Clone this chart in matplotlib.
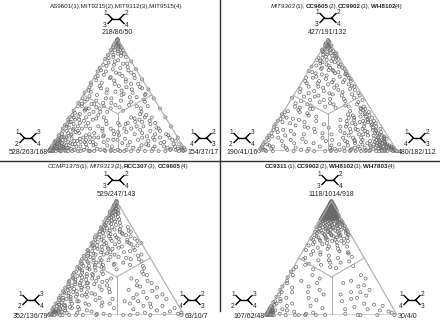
import numpy as np
import matplotlib
matplotlib.use('Agg')
import matplotlib.pyplot as plt
from matplotlib.offsetbox import TextArea, HPacker, AnnotationBbox

plt.rcParams['font.family'] = 'Liberation Sans'

# title pieces: (text, style)
titles = [
    [('AS9601(1),MIT9215(2),MIT9312(3),MIT9515(4)', 'n')],
    [('MIT9303', 'i'), ('(1),', 'n'), ('CC9605', 'b'), ('(2),', 'n'), ('CC9902', 'b'), ('(3),', 'n'),
     ('WH8102', 'b'), ('(4)', 'n')],
    [('CCMP1375', 'i'), ('(1),', 'n'), ('MIT9313', 'i'), ('(2),', 'n'), ('RCC307', 'b'), ('(3),', 'n'),
     ('CC9605', 'b'), ('(4)', 'n')],
    [('CC9311', 'b'), ('(1),', 'n'), ('CC9902', 'b'), ('(2),', 'n'), ('WH8102', 'b'), ('(3),', 'n'),
     ('WH7803', 'b'), ('(4)', 'n')],
]
top_counts = ['218/86/50', '427/191/132', '529/247/143', '1118/1014/918']
left_counts = ['528/263/168', '190/41/16', '352/136/79', '107/62/48']
right_counts = ['154/37/17', '480/182/112', '63/10/7', '30/4/0']

# quartet points: (% support for top topology, % support for right topology), left = the rest
pts1 = [(100,0),(98,1),(97,2),(96,1),(95,3),(94,2),(93,4),(92,1),(91,5),(90,3),(89,6),(88,2),(87,7),(86,4),
        (95,0),(93,0),(90,0),(88,9),(85,10),(86,0),(84,5),(99,0),(97,0),(94,5),(92,7),
        (80,8),(78,15),(76,4),(75,20),(73,10),(72,2),(70,25),(70,14),(68,6),(67,20),(65,30),(65,12),(63,3),
        (62,25),(60,18),(60,35),(58,8),(57,28),(56,40),(55,15),(54,2),(53,22),(52,35),(51,45),(50,10),
        (50,28),(48,40),(47,18),(46,5),(45,30),(44,48),(43,24),(42,12),(41,38),(40,52),(40,20),(39,32),(38,8),
        (82,0),(77,1),(71,0),(66,1),(61,0),(57,1),(52,0),(47,1),(43,0),
        (80,20),(73,27),(64,36),(55,45),(47,53),(38,62),(30,70),(22,78),(12,88),
        (0,0),(1,1),(2,0),(0,2),(3,1),(1,3),(4,2),(2,4),(5,0),(0,5),(6,3),(3,6),(7,1),(1,7),(8,4),(4,8),
        (9,0),(0,9),(10,2),(2,10),(5,5),(7,6),(6,8),(10,7),(8,10),(12,3),(3,12),(11,11),(13,6),(6,14),
        (14,0),(0,14),(15,9),(9,16),(4,18),(18,4),(16,14),(12,19),(20,8),(8,22),
        (20,0),(24,1),(28,0),(32,1),(36,0),(26,2),(30,3),(22,2),
        (0,12),(0,17),(0,21),(1,25),(0,29),(0,33),(1,37),(0,41),(0,45),(0,48),(0,52),(1,56),
        (25,10),(28,18),(22,25),(18,30),(15,22),(30,12),(33,6),(35,15),(27,28),(20,35),(12,30),(10,38),
        (15,40),(25,38),(8,26),(14,33),(30,25),(38,10),(40,4),(35,25),(22,16),(18,12),(5,30),(5,40),
        (10,45),(20,20),(28,5),(12,24),(24,30),(32,20),
        (10,60),(15,55),(20,50),(25,45),(5,70),(8,80),(12,75),(3,85),(18,65),(22,58),(28,52),(30,60),
        (35,50),(15,70),(5,55),(2,65),(0,60),(0,70),(0,80),(1,88),(0,95),(2,93),(4,90),(6,88),(10,85),
        (25,65),(32,55),(20,70),(12,62),(7,50),(17,48),(26,55),(38,48),(30,45),(14,80),(4,75),(9,68),
        (23,40),(0,75),(1,50),(3,60),(5,65),(0,98),(1,97),(2,96),(3,95),(1,99),
        (0,1),(1,0),(2,2),(3,0),(0,3),(4,4),(5,2),(2,5),(6,1),(1,6),(7,4),(4,7),(8,0),(0,8),(9,3),(3,9),
        (10,5),(5,10),(11,1),(1,11),(12,7),(7,12),(13,3),(3,13),(14,9),(9,14),(15,2),(2,15),(16,6),(6,16),
        (17,11),(11,17),(18,1),(1,18),(19,8),(8,19),(20,14),(14,20),(21,4),(4,21),(22,10),(10,22),(23,0),
        (0,23),(24,6),(6,24),(25,16),(16,25),(26,3),(3,26),(27,12),(12,27),(28,8),(8,28),(29,20),(20,29),
        (30,0),(0,30),(31,6),(6,31),(33,13),(13,33),(34,2),(2,34),(36,8),(8,36),(38,18),(18,38),(40,1),
        (1,40),(42,10),(10,42),(44,4),(4,44),
        (99,1),(96,3),(93,6),(90,9),(87,11),(84,14),(83,2),(81,10),(79,4),(78,18),(77,9),(74,15),(74,0),
        (72,22),(71,6),(69,17),(68,28),(67,2),(66,12),(64,24),(63,16),(61,8),(60,30),(59,1),(58,22),(57,38),
        (56,10),(55,33),(54,26),(53,4),(52,16),(51,29),(50,45),(49,5),(48,35),(47,22),(46,46),(45,12),
        (44,38),(43,18),(42,3),(41,28),(40,44),(39,15),(38,26),(37,8),(36,36),(35,20),
        (30,55),(27,60),(24,62),(21,68),(18,72),(15,78),(12,82),(9,88),(6,92),(3,97),(33,50),(29,48),
        (26,50),(22,53),(19,57),(16,60),(13,65),(10,72),(7,78),(4,82),(2,88),(1,92),(0,85),(0,65),(0,55),
        (1,45),(8,55),(11,50),(14,44),(17,42),(20,45),(24,44),(2,75),(6,68),(12,70)]

pts2 = [(100,0),(98,1),(97,2),(96,0),(95,3),(94,1),(93,4),(92,2),(91,6),(90,1),(89,5),(88,8),(87,3),
        (86,10),(85,6),(84,1),(83,12),(82,8),(81,4),(80,15),(99,1),(96,3),(94,4),(91,0),(88,11),(86,13),
        (84,14),(78,20),(75,23),(72,27),(70,28),(68,30),
        (79,5),(77,12),(76,0),(74,8),(73,17),(71,3),(70,20),(69,11),(67,25),(66,6),(65,16),(64,30),(63,2),
        (62,22),(61,12),(60,35),(59,27),(58,7),(57,18),(56,38),(55,30),(54,13),(53,3),(52,25),(51,42),
        (50,18),(50,35),(49,8),(48,45),(47,28),(46,14),(45,40),(44,22),(43,5),(42,50),(42,33),(41,17),
        (40,28),(40,45),(39,10),(38,55),(63,35),(58,40),(52,46),(46,52),(66,32),(72,18),(75,14),
        (30,5),(28,15),(25,10),(22,22),(20,3),(18,14),(15,25),(12,8),(10,18),(8,30),(6,3),(5,15),(3,25),
        (2,35),(0,40),(0,10),(1,20),(32,20),(35,12),(27,28),(24,35),(16,38),(12,40),(9,44),(20,30),(14,12),
        (4,8),(1,2),(0,0),(2,0),(3,1),(1,4),(36,3),(33,0),(29,1),(24,0),(19,1),(14,0),(10,2),(6,0),(38,18),
        (26,20),(17,5),(21,40),(7,22),
        (0,100),(1,98),(2,97),(0,97),(3,96),(1,95),(4,94),(2,93),(0,93),(5,92),(3,91),(6,90),(1,91),(7,88),
        (4,88),(0,89),(8,87),(2,86),(9,86),(5,85),(10,84),(11,87),(12,85),(13,84),(7,82),(3,83),(14,82),
        (0,85),(15,80),(10,80),
        (17,80),(20,78),(22,74),(25,72),(27,70),(30,67),(32,64),(35,62),(38,58),(40,56),(18,76),(23,70),
        (28,65),(33,60),(16,78),(19,73),(26,68),(12,80),
        (0,80),(1,77),(0,74),(2,72),(0,70),(1,66),(0,62),(3,60),(0,56),(1,52),(0,48),
        (10,70),(15,65),(20,60),(25,55),(30,50),(8,60),(12,55),(18,50),(22,48),(28,45),(5,50),(10,48),
        (15,45),(3,68),(7,75),(14,72),(20,65),(26,60),(32,52),(36,48),(5,78),(9,65),(17,58),(24,52),
        (98,2),(97,0),(95,5),(93,1),(92,6),(90,9),(89,2),(88,12),(87,6),(85,14),(84,4),(83,16),(82,1),
        (81,12),(80,6),(79,18),(78,10),(77,3),(76,20),(75,8),(74,25),(73,14),(72,0),(71,22),(70,6),(69,28),
        (68,15),(67,8),(66,1),(65,34),(64,22),(63,12),(62,30),(61,4),(60,20),(59,38),(58,14),(57,26),(56,2),
        (55,42),(54,20),(53,34),(52,10),(51,28),(50,48),(49,16),(48,0),(47,38),(46,24),(45,8),(44,50),
        (43,30),(42,14),(41,42),(40,6),(39,36),(38,20),
        (37,10),(34,18),(31,26),(29,10),(26,4),(23,15),(21,25),(19,8),(17,32),(15,18),(13,3),(11,26),(9,12),
        (7,36),(5,5),(4,42),(3,18),(2,8),(1,30),(0,25),(0,5),(0,35),(8,0),(12,0),(16,1),(22,0),(27,0),
        (31,2),(35,1),(4,0),
        (0,99),(1,97),(2,95),(3,94),(4,92),(5,90),(6,88),(7,86),(8,84),(9,83),(10,82),(11,85),(2,90),(4,86),
        (6,84),(0,91),(1,88),(3,87),(5,83),(8,80),(0,87),(13,80),(16,76),(19,75),(21,72),(24,70),(26,66),
        (29,64),(31,62),(34,60),(37,57),(39,54),(14,76),(11,78),(9,76),(18,68),(22,65),(27,62),(31,58),
        (35,56),(6,72),(4,70),(2,66),(0,66),(1,58),(2,54),(0,52),(3,50),(6,55),(9,58),(12,62),(15,68),
        (20,56),(24,58),(28,55),(30,54),(33,48),(27,50),(22,52),(16,54),(12,68),(8,70),(5,62),(3,75),(1,80),
        (14,58),(19,62),(10,64),(7,66),(0,77),(2,82),(4,79),(6,80),(17,70),(25,64)]

pts3 = [(100,0),(98,1),(97,0),(96,2),(95,1),(94,0),(93,3),(92,1),(91,4),(90,0),(89,2),(88,5),(87,1),
        (86,3),(85,0),(84,6),(83,2),(82,8),(81,4),(80,1),(79,10),(78,3),(99,0),(95,4),(90,6),
        (77,0),(76,5),(75,2),(74,8),(73,1),(72,4),(71,10),(70,0),(69,6),(68,3),(67,12),(66,1),(65,8),(64,4),
        (63,0),(62,10),(61,5),(60,2),(59,14),(58,7),(57,0),(56,4),(55,11),(54,2),(53,8),(52,0),(51,5),
        (50,13),(49,3),(48,9),(47,0),(46,6),(45,2),(44,12),(43,4),(42,0),(41,8),(40,3),(39,15),(38,1),
        (37,6),(36,10),(35,0),(34,4),(33,8),(32,2),(31,12),(30,0),(29,5),(28,9),(27,1),(26,4),(25,14),
        (24,0),(23,7),(22,3),(21,10),(20,1),(19,5),(18,12),(17,0),(16,8),(15,3),(14,6),(13,1),(12,10),
        (11,4),(10,0),(9,7),(8,2),(7,12),(6,5),(5,0),(4,3),(3,8),(2,1),(1,5),(0,0),(0,2),(1,0),(3,2),(2,4),(5,3),
        (75,15),(72,18),(70,22),(68,16),(66,25),(64,20),(62,30),(60,24),(58,18),(57,35),(55,28),(53,22),
        (52,40),(50,32),(48,20),(47,45),(45,26),(44,38),(42,18),(41,50),(40,30),(63,28),(59,33),(54,16),
        (49,42),(46,15),(74,22),(65,33),
        (30,20),(25,25),(20,18),(15,30),(10,22),(5,20),(8,35),(20,35),(28,15),(12,15),(18,25),(24,12),
        (33,20),(3,30),(14,40),(6,45),(26,30),(0,15),(0,25),(1,35),(0,45),(35,15),(17,16),
        (30,50),(25,55),(20,60),(15,65),(10,70),(35,55),(28,62),(18,75),(8,80),(5,60),(12,50),(22,48),
        (3,88),(1,95),(0,98),(2,97),(0,60),(0,75),(1,85),(38,50),(15,55),(7,72),(32,45),(24,68),
        (99,1),(97,1),(96,0),(94,3),(93,1),(92,5),(91,0),(90,3),(89,7),(88,1),(87,4),(86,8),(85,2),(84,10),
        (83,5),(82,0),(81,12),(80,6),(79,2),(78,14),(77,8),(76,1),(75,11),(74,4),(73,16),(72,8),(71,2),
        (70,14),(69,10),(68,0),(67,18),(66,6),(65,14),(64,1),(63,11),(62,18),(61,2),(60,9),(59,4),(58,15),
        (57,11),(56,1),(55,18),(54,6),(53,14),(52,3),(51,20),(50,8),(49,0),(48,15),(47,5),(46,12),(45,1),
        (44,18),(43,8),(42,13),(41,2),(40,10),(39,5),(38,20),(37,0),(36,14),(35,6),(34,11),(33,1),(32,16),
        (31,4),(30,9),(29,0),(28,14),(27,6),(26,10),(25,2),(24,17),(23,4),(22,13),(21,0),(20,8),(19,2),
        (18,18),(17,6),(16,12),(15,0),(14,9),(13,4),(12,16),(11,1),(10,12),(9,3),(8,8),(7,0),(6,14),(5,6),
        (4,10),(3,3),(2,12),(1,2),(0,8),(0,4),(2,6),(4,1),(6,9),(8,5),(1,1),(3,5),
        (73,24),(71,19),(69,26),(67,30),(64,26),(61,35),(59,22),(56,32),(53,42),(51,26),(49,36),(46,32),
        (44,26),(43,48),(41,20),(77,20),(63,37),
        (32,30),(29,25),(27,20),(22,28),(19,22),(16,20),(13,28),(11,34),(9,25),(7,18),(4,26),(2,20),(1,40),
        (0,35),(0,20),(0,10),(10,40),(23,33),(30,28),(36,22),
        (36,52),(26,52),(21,66),(16,72),(12,60),(8,66),(4,78),(2,70),(10,55),(18,56),(30,58),(14,80),(6,90),
        (0,55),(1,65)]

pts4 = [(100,0),(99,0),(99,1),(98,0),(98,1),(98,2),(97,0),(97,1),(97,2),(97,3),(96,0),(96,2),(96,4),
        (95,1),(95,3),(95,5),(94,0),(94,2),(94,4),(94,6),(93,1),(93,3),(93,5),(92,0),(92,2),(92,4),(92,6),
        (92,8),(91,1),(91,3),(91,5),(91,7),(90,0),(90,2),(90,4),(90,6),(90,8),(89,1),(89,3),(89,5),(89,7),
        (89,9),(88,0),(88,2),(88,4),(88,6),(88,8),(88,10),(87,1),(87,3),(87,5),(87,7),(87,9),(86,0),(86,2),
        (86,4),(86,6),(86,8),(86,10),(86,12),(85,1),(85,3),(85,5),(85,7),(85,9),(85,11),(84,0),(84,4),
        (84,8),(84,12),
        (83,2),(83,10),(82,6),(82,14),(81,1),(81,9),(80,4),(80,12),(80,18),(79,7),(79,15),(78,2),(78,10),
        (77,18),(77,5),(76,13),(76,22),(75,8),(75,1),(74,16),(74,24),(73,4),(73,11),(72,20),(72,7),(71,14),
        (71,27),(70,2),(70,10),(70,22),(69,17),(68,6),(68,28),(67,12),(66,20),(66,3),(65,25),(65,9),
        (63,15),(62,5),(61,24),(60,32),(59,10),(58,18),(57,2),(56,28),(55,14),(54,36),(53,8),(52,22),
        (50,30),(49,4),(48,16),(47,40),(46,26),(45,10),(44,20),(43,45),(42,2),(41,33),
        (0,0),(1,0),(0,1),(2,1),(1,2),(3,0),(0,3),(2,3),(4,1),(1,4),(5,2),(3,4),(6,0),(0,6),(4,5),
        (8,0),(12,1),(16,0),(20,2),(25,0),(30,1),(35,3),(38,0),(10,3),(14,4),
        (30,12),(25,20),(20,10),(15,25),(10,15),(8,30),(5,10),(18,35),(28,25),(35,18),(12,5),(22,30),
        (3,20),(0,15),(0,22),(1,30),(0,38),(6,40),
        (30,50),(25,58),(20,55),(15,62),(10,70),(5,75),(8,85),(3,92),(0,98),(35,55),(22,68),(12,52),
        (0,70),(0,72),(1,60),(28,45),(18,48),(5,58),(0,45),(0,25),(1,10),(0,30),
        (99,0),(98,0),(97,1),(96,1),(96,3),(95,0),(95,2),(95,4),(94,1),(94,3),(94,5),(93,0),(93,2),(93,4),
        (93,6),(92,1),(92,3),(92,5),(92,7),(91,0),(91,2),(91,4),(91,6),(91,8),(90,1),(90,3),(90,5),(90,7),
        (90,9),(89,0),(89,2),(89,4),(89,6),(89,8),(89,10),(88,1),(88,3),(88,5),(88,7),(88,9),(88,11),(87,0),
        (87,2),(87,4),(87,6),(87,8),(87,10),(87,12),(86,1),(86,3),(86,5),(86,7),(86,9),(86,11),(85,0),
        (85,2),(85,4),(85,6),(85,8),(85,10),(85,12),(84,2),(84,6),(84,10),(84,14),(83,0),(83,4),(83,7),
        (83,13),(83,16),(82,2),(82,10),(82,17),(81,5),(81,14),(81,18),(80,0),(80,8),(80,15),(79,2),(79,11),
        (79,19),(78,6),(78,15),(78,21),(77,0),(77,10),(77,13),(76,3),(76,8),(76,17),(75,12),(75,20),(75,24),
        (74,5),(74,10),(73,1),(73,18),(73,26),(72,3),(72,13),(72,25),(71,9),(71,20),(70,15),(70,28),(69,4),
        (69,22),(68,12),(68,20),(67,1),(67,26),(66,8),(66,14),(65,18),(65,30),(64,5),(64,22),(63,28),
        (62,12),(61,2),(60,18),(58,26),(56,8),(55,35),(53,15),(51,40),(50,5),(48,24),(46,34),(44,8),(42,28),
        (40,16),
        (2,0),(0,2),(1,1),(3,2),(2,4),(5,0),(0,5),(4,3),(6,2),(7,1),(9,2),(11,0),(18,1),(22,0),(28,2),(33,0),
        (40,1),(15,8),(8,12),(4,14),(24,8),(20,22),(13,32),(2,35),(32,25),
        (26,62),(17,68),(9,78),(4,85),(2,95),(32,60),(14,58),(7,64),(20,62),(0,85)]

all_pts = [pts1, pts2, pts3, pts4]

# triangle boxes in pixels: left x, right x, apex y, base y
boxes = [(49, 186, 39, 151), (259, 397, 40, 151), (49, 184, 201, 315), (266, 397, 201, 315)]
title_pos = [(116, 6), (337, 6), (118, 166), (330, 166)]
top_lab_y = [32, 32, 194, 194]
trees = [[(116, 19), (28, 138), (203, 138)],
         [(328, 18), (242, 138), (417, 138)],
         [(116, 180), (31, 300), (192, 300)],
         [(330, 180), (244, 300), (412, 300)]]
tree_labels = [('1', '2', '3', '4'), ('1', '3', '2', '4'), ('1', '2', '4', '3')]
styles = {'n': dict(), 'b': dict(fontweight='bold'), 'i': dict(fontstyle='italic')}

W, H = 440, 322
fig = plt.figure(figsize=(4.4, 3.22), dpi=100)
bg = fig.add_axes([0, 0, 1, 1])
bg.set_xlim(0, W)
bg.set_ylim(H, 0)
bg.axis('off')

bg.plot([0, W], [161, 161], color='#333333', lw=1)
bg.plot([220, 220], [0, 311], color='#333333', lw=1)


def draw_tree(cx, cy, labs):
    bg.plot([cx - 3.5, cx + 3.5], [cy, cy], color='k', lw=1.0)
    for sx in (-1, 1):
        for sy in (-1, 1):
            bg.plot([cx + sx * 3.5, cx + sx * 8], [cy, cy + sy * 4.5], color='k', lw=1.0)
    pos = [(-11, -6), (11, -6), (-11, 6), (11, 6)]
    for (dx, dy), l in zip(pos, labs):
        bg.text(cx + dx, cy + dy, l, fontsize=4.8, ha='center', va='center', color='#222222')


def draw_title(x, y, segs):
    parts = []
    for s, st in segs:
        tp = dict(fontsize=4.5, color='#222222', family='Liberation Sans')
        tp.update(styles[st])
        parts.append(TextArea(s, textprops=tp))
    box = HPacker(children=parts, align='baseline', pad=0, sep=0)
    ab = AnnotationBbox(box, (x, y), xycoords='data', frameon=False, box_alignment=(0.5, 0.5), pad=0)
    bg.add_artist(ab)


for i in range(4):
    l, r, ay, by = boxes[i]
    ax = fig.add_axes([l / W, 1 - by / H, (r - l) / W, (by - ay) / H])
    ax.set_xlim(0, 1)
    ax.set_ylim(0, 1)
    ax.axis('off')
    ax.plot([0, 1, 0.5, 0], [0, 0, 1, 0], color='#aaaaaa', lw=0.8)
    c = (0.5, 1 / 3)
    for m in [(0.25, 0.5), (0.75, 0.5), (0.5, 0)]:
        ax.plot([c[0], m[0]], [c[1], m[1]], color='#aaaaaa', lw=0.7)
    p = np.array(all_pts[i], dtype=float) / 100
    v = p[:, 0]
    u = p[:, 1] + v / 2
    ax.scatter(u, v, s=5, facecolors='none', edgecolors='#6a6a6a', linewidths=0.5, clip_on=False)

    tx, ty = title_pos[i]
    draw_title(tx, ty, titles[i])
    bg.text((l + r) / 2, top_lab_y[i], top_counts[i], fontsize=5, ha='center', va='center', color='#222222')
    bg.text(l - 1, by + 1.5, left_counts[i], fontsize=5, ha='right', va='center', color='#222222')
    bg.text(r + 1, by + 1.5, right_counts[i], fontsize=5, ha='left', va='center', color='#222222')
    for (cx, cy), labs in zip(trees[i], tree_labels):
        draw_tree(cx, cy, labs)

fig.savefig('out.png', dpi=100)
